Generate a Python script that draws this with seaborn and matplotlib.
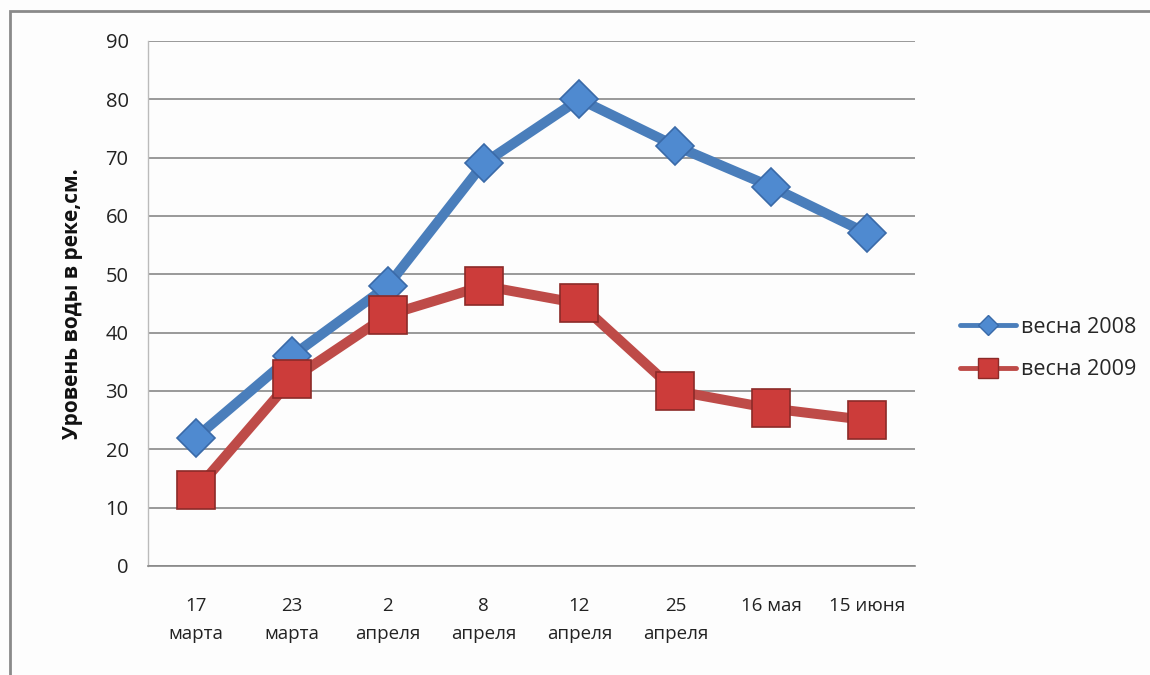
import matplotlib
matplotlib.use("Agg")
import matplotlib.pyplot as plt
import seaborn as sns
import pandas as pd
from matplotlib.patches import Rectangle
from matplotlib.lines import Line2D

dates = ["17\nмарта", "23\nмарта", "2\nапреля", "8\nапреля",
         "12\nапреля", "25\nапреля", "16 мая", "15 июня"]
spring_2008 = [22, 36, 48, 69, 80, 72, 65, 57]
spring_2009 = [13, 32, 43, 48, 45, 30, 27, 25]
series_names = ["весна 2008", "весна 2009"]
y_ticks = list(range(0, 100, 10))

df = pd.DataFrame({
    "x": list(range(len(dates))) * 2,
    "level": spring_2008 + spring_2009,
    "series": [series_names[0]] * len(dates) + [series_names[1]] * len(dates),
})

sns.set_theme(style="white")
plt.rcParams["font.family"] = ["Open Sans", "DejaVu Sans"]

fig = plt.figure(figsize=(11.5, 6.75), dpi=100)
fig.patch.set_facecolor("#fdfdfd")
ax = fig.add_axes([0.1287, 0.1615, 0.667, 0.778])
ax.set_facecolor("#fdfdfd")

palette = {series_names[0]: "#4a7ebb", series_names[1]: "#be4b48"}
markers = {series_names[0]: "D", series_names[1]: "s"}
sns.lineplot(data=df, x="x", y="level", hue="series", style="series",
             markers=markers, dashes=False, palette=palette, ax=ax,
             linewidth=7.2, legend=False, zorder=3)

# marker styling per series
marker_face = ["#4f8ad0", "#cc3c3a"]
marker_edge = ["#3a6aa8", "#8c2a28"]
marker_size = [19, 27]
for ln, fc, ec, ms in zip(ax.get_lines(), marker_face, marker_edge, marker_size):
    ln.set_markerfacecolor(fc)
    ln.set_markeredgecolor(ec)
    ln.set_markersize(ms)
    ln.set_markeredgewidth(1.2)
    ln.set_solid_capstyle("round")
    ln.set_solid_joinstyle("round")

ax.set_xlim(-0.5, len(dates) - 0.5)
ax.set_ylim(0, 90)
ax.set_yticks(y_ticks)
ax.set_yticklabels([str(v) for v in y_ticks], fontsize=14.5, color="#222222")
ax.set_xticks([i + 0.5 for i in range(-1, len(dates))])
ax.set_xticklabels([""] * (len(dates) + 1))
ax.set_xticks(range(len(dates)), minor=True)
ax.set_xticklabels(dates, minor=True, fontsize=13.5, color="#222222",
                   linespacing=1.75)
ax.tick_params(axis="x", which="major", length=6, color="#888888", width=1)
ax.tick_params(axis="x", which="minor", length=0, pad=22)
ax.tick_params(axis="y", length=10, color="#888888", width=1, pad=4)

ax.grid(axis="y", color="#888888", linewidth=1.2)
ax.set_axisbelow(True)
for side in ["top", "right"]:
    ax.spines[side].set_visible(False)
ax.spines["left"].set_color("#bbbbbb")
ax.spines["left"].set_linewidth(1)
ax.spines["bottom"].set_color("#888888")
ax.spines["bottom"].set_linewidth(1.2)

ax.set_xlabel("")
ax.set_ylabel("Уровень воды в реке,см.", fontsize=15, fontweight="bold",
              color="#111111", labelpad=16)

# legend
handles = [Line2D([0], [0], color=palette[n], lw=3.5, marker=markers[n],
                  markersize=ms * 0.55, markerfacecolor=fc, markeredgecolor=ec)
           for n, fc, ec, ms in zip(series_names, marker_face, marker_edge, marker_size)]
fig.legend(handles, series_names, loc="center left",
           bbox_to_anchor=(0.818, 0.484), frameon=False, fontsize=15.5,
           handlelength=2.6, labelspacing=1.0, handletextpad=0.25)

# chart frame
fig.add_artist(Rectangle((10 / 1150, -0.02), 1.2, 1 - 11 / 675 + 0.02,
                         transform=fig.transFigure, fill=False,
                         edgecolor="#8a8a8a", linewidth=2))

fig.savefig("out.png", dpi=100, facecolor=fig.get_facecolor())
